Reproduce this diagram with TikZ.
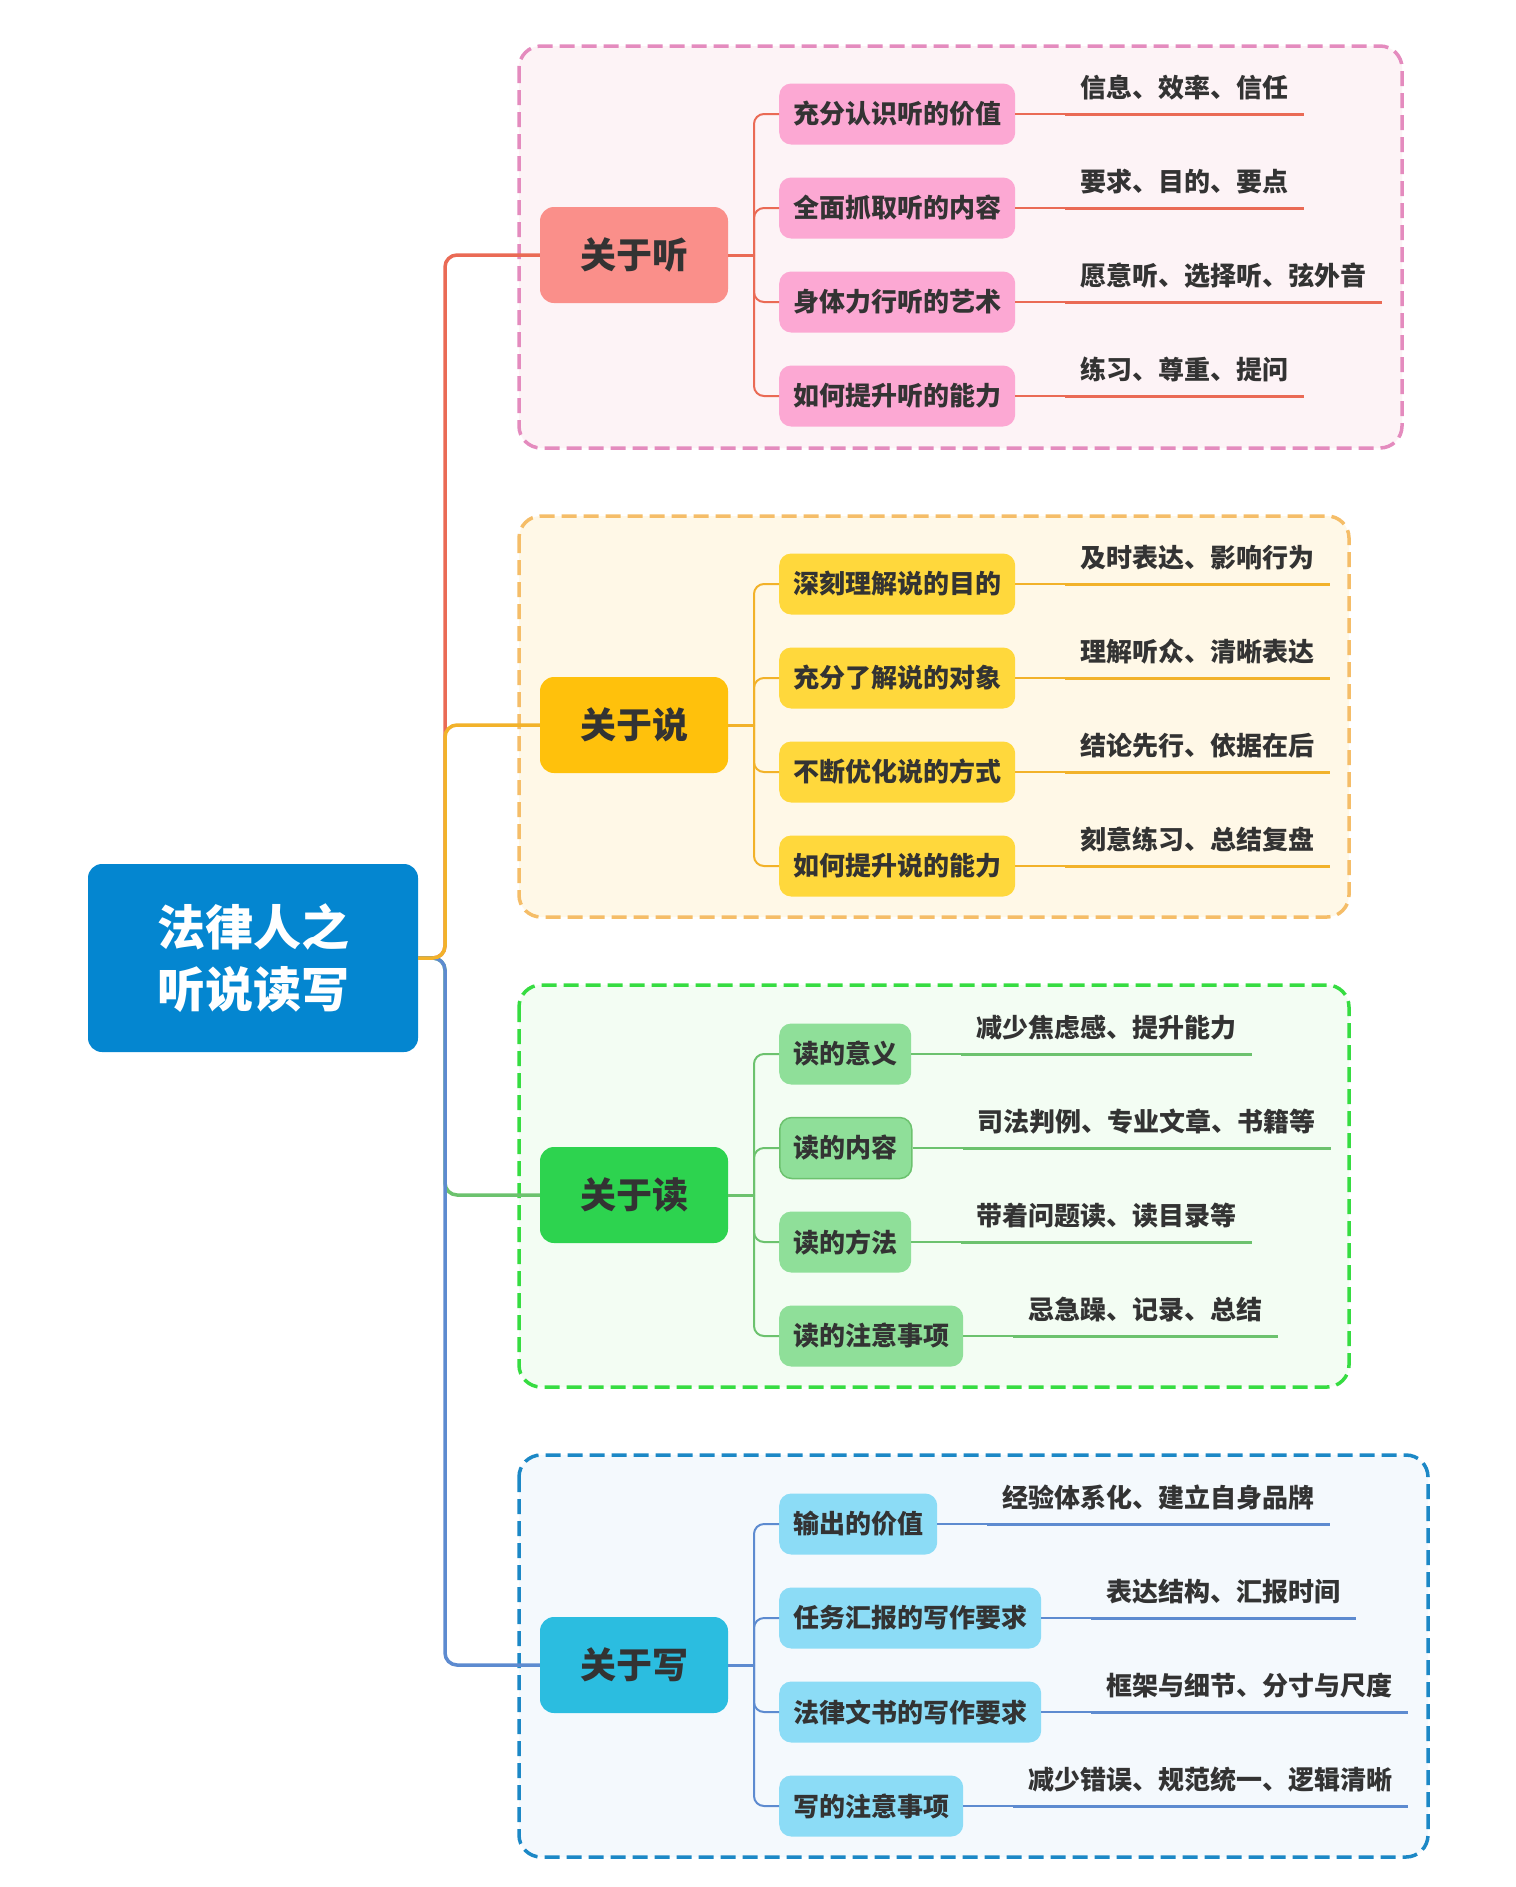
\documentclass[tikz,border=0pt]{standalone}
\usepackage{fontspec}
\setmainfont{Noto Sans CJK SC}
\usetikzlibrary{calc}
\definecolor{txt}{HTML}{333333}
\definecolor{rootC}{HTML}{0486D0}
\definecolor{hearMain}{HTML}{FA8F8A}
\definecolor{hearSub}{HTML}{FCA8D3}
\definecolor{hearLine}{HTML}{EA6A55}
\definecolor{hearBox}{HTML}{E48BBE}
\definecolor{hearFill}{HTML}{FDF3F6}
\definecolor{sayMain}{HTML}{FFC10C}
\definecolor{saySub}{HTML}{FFD83C}
\definecolor{sayLine}{HTML}{F2B22A}
\definecolor{sayBox}{HTML}{F5BD68}
\definecolor{sayFill}{HTML}{FFF8E7}
\definecolor{readMain}{HTML}{2DD34F}
\definecolor{readSub}{HTML}{8FDF99}
\definecolor{readLine}{HTML}{6CC26E}
\definecolor{readBox}{HTML}{36DC41}
\definecolor{readFill}{HTML}{F3FDF3}
\definecolor{writeMain}{HTML}{2BBDE0}
\definecolor{writeSub}{HTML}{8CDCF6}
\definecolor{writeLine}{HTML}{5D8BD0}
\definecolor{writeBox}{HTML}{1C88C6}
\definecolor{writeFill}{HTML}{F4F9FD}
\tikzset{
  groupbox/.style={line width=3.5pt, dash pattern=on 15pt off 7pt, rounded corners=22pt},
  rootnode/.style={fill=rootC, rounded corners=14pt, minimum width=330pt, minimum height=188pt,
    inner sep=0pt, align=center, text=white, font=\fontsize{48}{62}\selectfont\bfseries},
  mainnode/.style={rounded corners=14pt, minimum width=188pt, minimum height=96pt, inner sep=0pt,
    text=txt, font=\fontsize{36}{40}\selectfont\bfseries},
  subnode/.style={rounded corners=12pt, minimum height=61pt, inner xsep=14pt, inner ysep=0pt,
    anchor=west, text=txt, font=\fontsize{26}{30}\selectfont\bfseries},
  leafnode/.style={anchor=south west, inner xsep=15pt, inner ysep=16.5pt, text depth=0pt,
    text=txt, font=\fontsize{26}{30}\selectfont\bfseries},
  trunkline/.style={line width=3.5pt, rounded corners=12pt},
  stubline/.style={line width=3pt},
  subline/.style={line width=2pt, rounded corners=10pt},
  ulline/.style={line width=3pt},
}
\begin{document}
\begin{tikzpicture}[x=1pt,y=-1pt]
\useasboundingbox (0,0) rectangle (1515,1887);
\fill[white] (0,0) rectangle (1515,1887);

% group boxes
\draw[groupbox, draw=hearBox, fill=hearFill] (519,46) rectangle (1402,448);
\draw[groupbox, draw=sayBox, fill=sayFill] (519,516) rectangle (1349,917);
\draw[groupbox, draw=readBox, fill=readFill] (519,985) rectangle (1349,1387);
\draw[groupbox, draw=writeBox, fill=writeFill] (519,1455) rectangle (1428,1857);

\coordinate (T) at (445,0);
\coordinate (B) at (754,0);

% root and main nodes
\node[rootnode] (root) at (253,958) {法律人之\\听说读写};
\node[mainnode, fill=hearMain] (hear) at (634,255) {关于听};
\node[mainnode, fill=sayMain] (say) at (634,725) {关于说};
\node[mainnode, fill=readMain] (read) at (634,1195) {关于读};
\node[mainnode, fill=writeMain] (write) at (634,1665) {关于写};

% sub nodes
\node[subnode, fill=hearSub] (h1) at (779,114) {充分认识听的价值};
\node[subnode, fill=hearSub] (h2) at (779,208) {全面抓取听的内容};
\node[subnode, fill=hearSub] (h3) at (779,302) {身体力行听的艺术};
\node[subnode, fill=hearSub] (h4) at (779,396) {如何提升听的能力};

\node[subnode, fill=saySub] (s1) at (779,584) {深刻理解说的目的};
\node[subnode, fill=saySub] (s2) at (779,678) {充分了解说的对象};
\node[subnode, fill=saySub] (s3) at (779,772) {不断优化说的方式};
\node[subnode, fill=saySub] (s4) at (779,866) {如何提升说的能力};

\node[subnode, fill=readSub] (r1) at (779,1054) {读的意义};
\node[subnode, fill=readSub, draw=readLine, line width=1.5pt] (r2) at (779,1148) {读的内容};
\node[subnode, fill=readSub] (r3) at (779,1242) {读的方法};
\node[subnode, fill=readSub] (r4) at (779,1336) {读的注意事项};

\node[subnode, fill=writeSub] (w1) at (779,1524) {输出的价值};
\node[subnode, fill=writeSub] (w2) at (779,1618) {任务汇报的写作要求};
\node[subnode, fill=writeSub] (w3) at (779,1712) {法律文书的写作要求};
\node[subnode, fill=writeSub] (w4) at (779,1806) {写的注意事项};

% leaves
\node[leafnode] (h1l) at ($(h1.east)+(50,0)$) {信息、效率、信任};
\node[leafnode] (h2l) at ($(h2.east)+(50,0)$) {要求、目的、要点};
\node[leafnode] (h3l) at ($(h3.east)+(50,0)$) {愿意听、选择听、弦外音};
\node[leafnode] (h4l) at ($(h4.east)+(50,0)$) {练习、尊重、提问};

\node[leafnode] (s1l) at ($(s1.east)+(50,0)$) {及时表达、影响行为};
\node[leafnode] (s2l) at ($(s2.east)+(50,0)$) {理解听众、清晰表达};
\node[leafnode] (s3l) at ($(s3.east)+(50,0)$) {结论先行、依据在后};
\node[leafnode] (s4l) at ($(s4.east)+(50,0)$) {刻意练习、总结复盘};

\node[leafnode] (r1l) at ($(r1.east)+(50,0)$) {减少焦虑感、提升能力};
\node[leafnode] (r2l) at ($(r2.east)+(50,0)$) {司法判例、专业文章、书籍等};
\node[leafnode] (r3l) at ($(r3.east)+(50,0)$) {带着问题读、读目录等};
\node[leafnode] (r4l) at ($(r4.east)+(50,0)$) {忌急躁、记录、总结};

\node[leafnode] (w1l) at ($(w1.east)+(50,0)$) {经验体系化、建立自身品牌};
\node[leafnode] (w2l) at ($(w2.east)+(50,0)$) {表达结构、汇报时间};
\node[leafnode] (w3l) at ($(w3.east)+(50,0)$) {框架与细节、分寸与尺度};
\node[leafnode] (w4l) at ($(w4.east)+(50,0)$) {减少错误、规范统一、逻辑清晰};

% trunk connectors
\draw[trunkline, hearLine] (root.east) -- (T |- root.east) |- (hear.west);
\draw[trunkline, readLine] (root.east) -- (T |- root.east) |- (read.west);
\draw[trunkline, writeLine] (root.east) -- (T |- root.east) |- (write.west);
\draw[trunkline, sayLine] (root.east) -- (T |- root.east) |- (say.west);

% main to sub connectors
\foreach \m/\c/\p in {hear/hearLine/h, say/sayLine/s, read/readLine/r, write/writeLine/w}{
  \draw[stubline, \c] (\m.east) -- (B |- \m.east);
  \foreach \i in {1,2,3,4}{
    \draw[subline, \c] (B |- \m.east) |- (\p\i.west);
    \draw[line width=2pt, \c] (\p\i.east) -- (\p\i l.south west);
    \draw[ulline, \c] (\p\i l.south west) -- (\p\i l.south east);
  }
}
\end{tikzpicture}
\end{document}
